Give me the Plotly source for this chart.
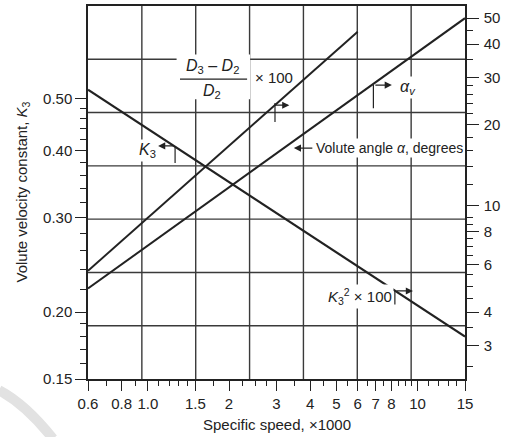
import math
import plotly.graph_objects as go

# Specific speed (x1000) at the ends of each straight log-log line
ns_full = [0.6, 15]
ns_short = [0.6, 6]

# Volute velocity constant K3 (left axis)
k3_vals = [0.52, 0.18]
# (D3 - D2)/D2 x 100 (right axis)
dratio_vals = [5.7, 44.5]
# Volute angle alpha, degrees (right axis)
alpha_vals = [4.9, 50]

# Axis ticks
x_ticks = [0.6, 0.8, 1.0, 1.5, 2, 3, 4, 5, 6, 7, 8, 10, 15]
x_ticktext = ["0.6", "0.8", "1.0", "1.5", "2", "3", "4", "5", "6", "7", "8", "10", "15"]
x_minor = [0.7, 0.9, 1.1, 1.2, 1.3, 1.4, 1.75, 2.25, 2.5, 2.75, 3.5, 4.5, 5.5,
           6.5, 7.5, 8.5, 9, 9.5, 11, 12, 13, 14]

y_ticks = [0.15, 0.20, 0.30, 0.40, 0.50]
y_ticktext = ["0.15", "0.20", "0.30", "0.40", "0.50"]
y_minor = [0.16, 0.17, 0.18, 0.19, 0.22, 0.24, 0.26, 0.28,
           0.32, 0.34, 0.36, 0.38, 0.42, 0.44, 0.46, 0.48]

y2_ticks = [3, 4, 6, 8, 10, 20, 30, 40, 50]
y2_ticktext = ["3", "4", "6", "8", "10", "20", "30", "40", "50"]
y2_minor = [2.5, 3.5, 4.5, 5, 5.5, 6.5, 7, 7.5, 8.5, 9, 12, 14, 16, 18,
            22, 24, 26, 28, 35, 45]

K_MIN, K_MAX = 0.15, 0.745
X_MIN, X_MAX = 0.6, 15

INK = "#222222"
GRID = "#3a3a3a"
FONT = "Liberation Sans, Arial, sans-serif"

fig = go.Figure()
line_style = dict(color=INK, width=2)
fig.add_trace(go.Scatter(x=ns_full, y=k3_vals, mode="lines", line=line_style,
                         yaxis="y", showlegend=False, hoverinfo="skip"))
fig.add_trace(go.Scatter(x=ns_short, y=dratio_vals, mode="lines", line=line_style,
                         yaxis="y2", showlegend=False, hoverinfo="skip"))
fig.add_trace(go.Scatter(x=ns_full, y=alpha_vals, mode="lines", line=line_style,
                         yaxis="y2", showlegend=False, hoverinfo="skip"))

shapes = []
# 7 x 7 square reading grid
for i in range(1, 7):
    f = i / 7
    shapes.append(dict(type="line", xref="x domain", yref="y domain",
                       x0=f, x1=f, y0=0, y1=1, layer="below",
                       line=dict(color=GRID, width=1.4)))
    shapes.append(dict(type="line", xref="x domain", yref="y domain",
                       x0=0, x1=1, y0=f, y1=f, layer="below",
                       line=dict(color=GRID, width=1.4)))

# white patch behind the fraction label
shapes.append(dict(type="rect", xref="x domain", yref="y domain",
                   x0=0.235, x1=0.43, y0=0.75, y1=0.87, layer="below",
                   fillcolor="white", line=dict(width=0)))
# fraction bar
shapes.append(dict(type="line", xref="x domain", yref="y domain",
                   x0=0.244, x1=0.422, y0=0.804, y1=0.804,
                   line=dict(color=INK, width=1.2)))

# leader ticks for the curve labels
def leader(x, y0, y1):
    shapes.append(dict(type="line", xref="x domain", yref="y domain",
                       x0=x, x1=x, y0=y0, y1=y1, line=dict(color=INK, width=1.2)))

leader(0.496, 0.740, 0.689)   # (D3-D2)/D2
leader(0.757, 0.788, 0.726)   # alpha_v
leader(0.231, 0.625, 0.579)   # K3
leader(0.814, 0.236, 0.200)   # K3^2

# faint arc in the lower-left corner
shapes.append(dict(type="path", xref="paper", yref="paper",
                   path="M -0.236,-0.030 Q -0.165,-0.068 -0.093,-0.160",
                   line=dict(color="#e2e2e2", width=10)))

annotations = []

def label(text, x, y, xanchor="center", bg=None, size=15):
    d = dict(text=text, x=x, y=y, xref="x domain", yref="y domain",
             xanchor=xanchor, yanchor="middle", showarrow=False,
             font=dict(family=FONT, size=size, color=INK))
    if bg:
        d["bgcolor"] = bg
    annotations.append(d)

def arrow(x, y, ax):
    annotations.append(dict(text="", x=x, y=y, xref="x domain", yref="y domain",
                            ax=ax, ay=0, showarrow=True, arrowhead=2,
                            arrowsize=1.1, arrowwidth=1.3, arrowcolor=INK))

label("<i>D</i><sub>3</sub> – <i>D</i><sub>2</sub>", 0.329, 0.838, size=16)
label("<i>D</i><sub>2</sub>", 0.329, 0.772, size=16)
label("× 100", 0.494, 0.807, size=15)
arrow(0.534, 0.734, -16)

label("<i>α<sub>v</sub></i>", 0.849, 0.782, bg="white", size=16)
arrow(0.806, 0.788, -18)

label("Volute angle <i>α</i>, degrees", 0.600, 0.619, xanchor="left", bg="white", size=14)
arrow(0.546, 0.619, 20)

label("<i>K</i><sub>3</sub>", 0.158, 0.612, bg="white", size=16)
arrow(0.186, 0.625, 17)

label("<i>K</i><sub>3</sub><sup>2</sup> × 100", 0.722, 0.220, bg="white", size=15)
arrow(0.862, 0.236, -18)

# axis titles
titlefont = dict(family=FONT, size=15, color=INK)
annotations.append(dict(text="Specific speed, ×1000", xref="paper", yref="paper",
                        x=0.5, y=-0.123, xanchor="center", yanchor="middle",
                        showarrow=False, font=titlefont))
annotations.append(dict(text="Volute velocity constant, <i>K</i><sub>3</sub>",
                        xref="paper", yref="paper", x=-0.175, y=0.5,
                        xanchor="center", yanchor="middle", textangle=-90,
                        showarrow=False, font=titlefont))

tickfont = dict(family=FONT, size=15, color=INK)

fig.update_layout(
    width=505, height=437, autosize=False,
    margin=dict(l=88, r=40, t=6, b=58),
    paper_bgcolor="white", plot_bgcolor="white",
    font=dict(family=FONT, color=INK),
    shapes=shapes, annotations=annotations,
    xaxis=dict(
        type="log", range=[math.log10(X_MIN), math.log10(X_MAX)],
        tickmode="array", tickvals=x_ticks, ticktext=x_ticktext,
        ticks="outside", ticklen=10, tickwidth=1.3, tickcolor=INK,
        tickfont=tickfont, showgrid=False, zeroline=False, automargin=False,
        showline=True, linecolor=INK, linewidth=1.5, mirror=True,
        minor=dict(tickmode="array", tickvals=x_minor, ticks="outside",
                   ticklen=5, tickwidth=1.2, tickcolor=INK, showgrid=False),
    ),
    yaxis=dict(
        type="log", range=[math.log10(K_MIN), math.log10(K_MAX)],
        tickmode="array", tickvals=y_ticks, ticktext=y_ticktext,
        ticks="outside", ticklen=11, tickwidth=1.3, tickcolor=INK,
        tickfont=tickfont, showgrid=False, zeroline=False, automargin=False,
        showline=True, linecolor=INK, linewidth=1.5, mirror=True,
        minor=dict(tickmode="array", tickvals=y_minor, ticks="outside",
                   ticklen=6, tickwidth=1.2, tickcolor=INK, showgrid=False),
    ),
    yaxis2=dict(
        type="log", overlaying="y", side="right",
        range=[2 + 2 * math.log10(K_MIN), 2 + 2 * math.log10(K_MAX)],
        tickmode="array", tickvals=y2_ticks, ticktext=y2_ticktext,
        ticks="outside", ticklen=12, tickwidth=1.3, tickcolor=INK,
        ticklabelstandoff=2, automargin=False,
        tickfont=tickfont, showgrid=False, zeroline=False,
        showline=True, linecolor=INK, linewidth=1.5,
        minor=dict(tickmode="array", tickvals=y2_minor, ticks="outside",
                   ticklen=6, tickwidth=1.2, tickcolor=INK, showgrid=False),
    ),
)

fig.write_html("out.html")
